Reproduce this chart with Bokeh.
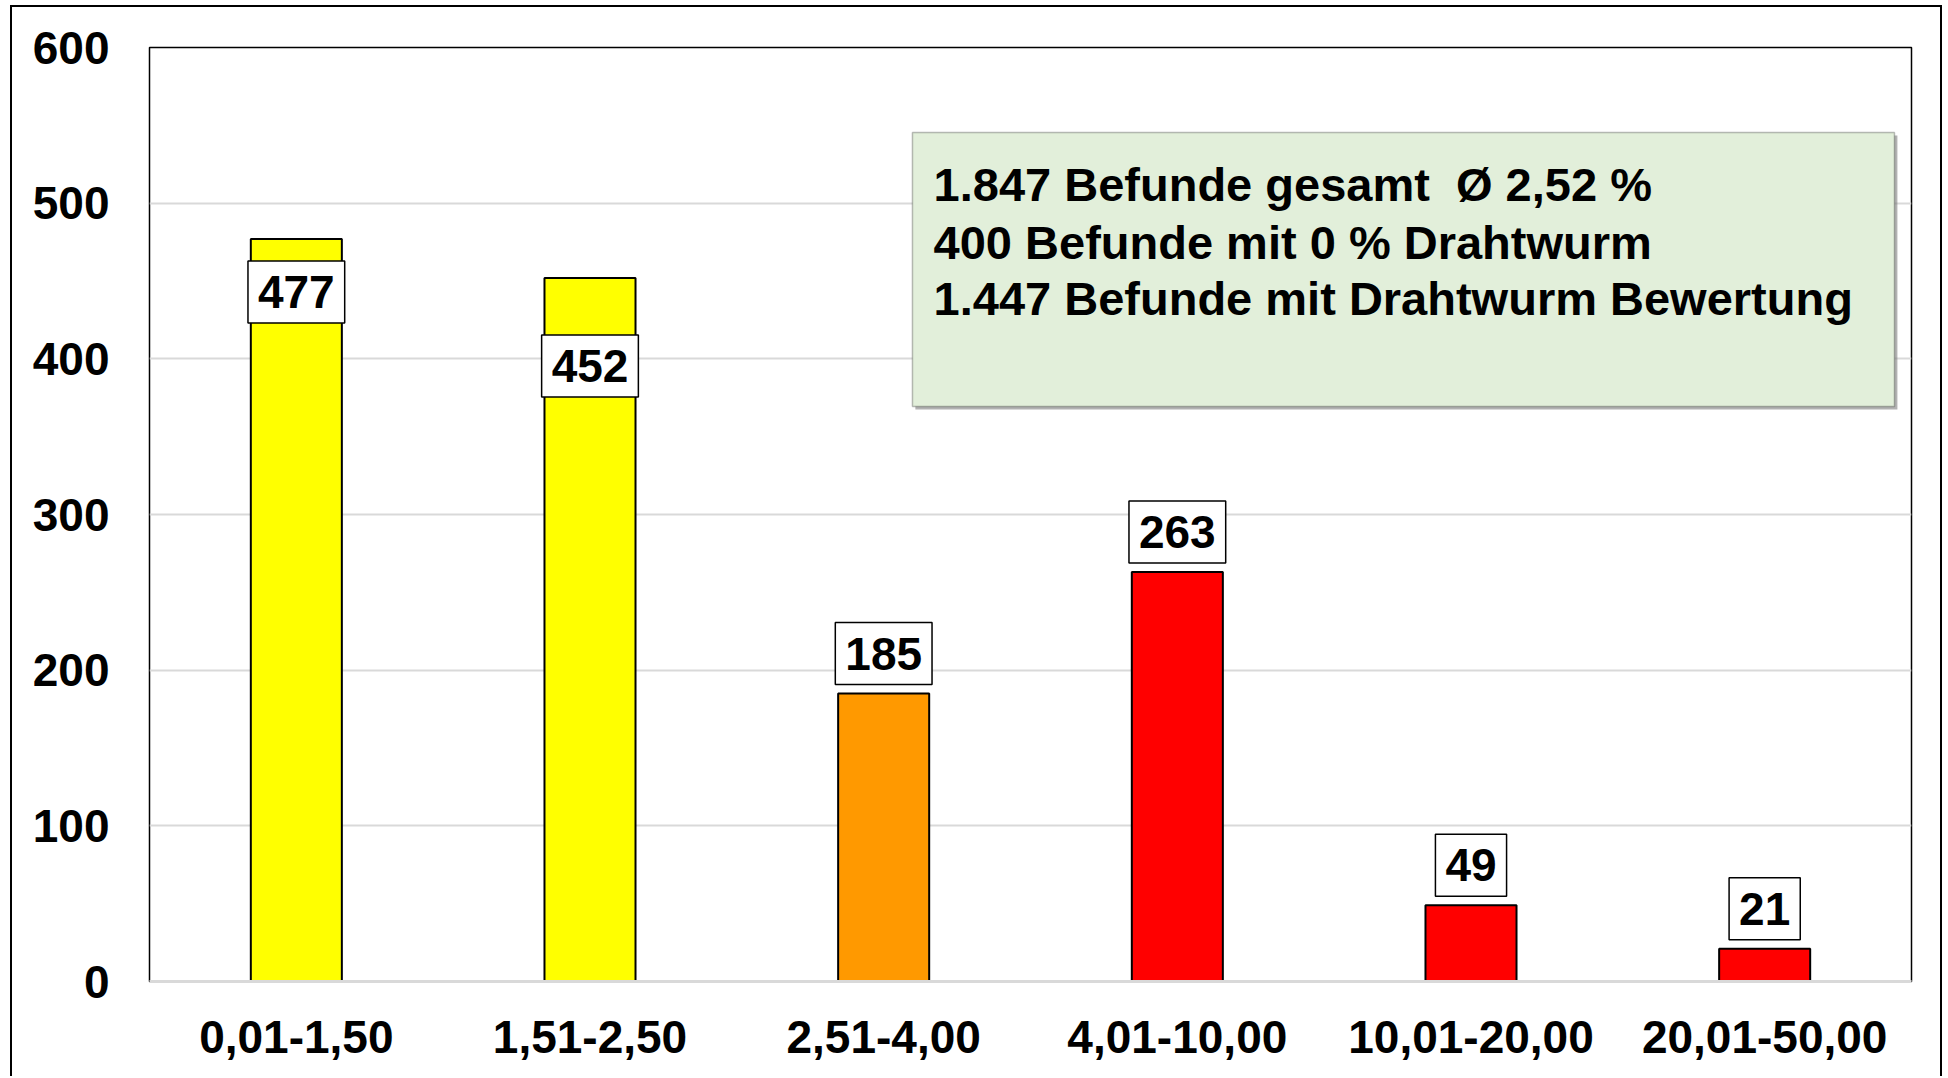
from bokeh.plotting import figure
from bokeh.models import ColumnDataSource, FactorRange, Range1d, FixedTicker, BoxAnnotation, Label
from bokeh.core.properties import value
from bokeh.embed import file_html
from bokeh.resources import INLINE

categories = ["0,01-1,50", "1,51-2,50", "2,51-4,00", "4,01-10,00", "10,01-20,00", "20,01-50,00"]
counts = [477, 452, 185, 263, 49, 21]
bar_colors = ["#FFFF00", "#FFFF00", "#FF9900", "#FF0000", "#FF0000", "#FF0000"]
y_ticks = [0, 100, 200, 300, 400, 500, 600]
info_lines = [
    "1.847 Befunde gesamt \u00a0\u00d8 2,52 %",
    "400 Befunde mit 0 % Drahtwurm",
    "1.447 Befunde mit Drahtwurm Bewertung",
]

FONT = value("Liberation Sans")
FS = "46px"
W, H = 1932, 1071
FL, FT, FR, FB = 137, 40, 1899, 974   # frame edges in canvas px
frame_h = FB - FT
ppu = frame_h / 600.0  # px per data unit

# label placement (pixels above bar top; negative = inside bar)
label_offsets = [-53, -88, 40, 40, 40, 40]
label_y = [v + o / ppu for v, o in zip(counts, label_offsets)]
label_w = [len(str(v)) * 0.556 * 46 + 20 for v in counts]

src = ColumnDataSource(dict(cat=categories, val=counts, color=bar_colors,
                            ly=label_y, lw=label_w, txt=[str(v) for v in counts]))

p = figure(x_range=FactorRange(factors=categories, range_padding=0),
           y_range=Range1d(0, 600), width=W, height=H,
           output_backend="svg", toolbar_location=None,
           min_border_left=FL, min_border_top=FT,
           min_border_right=W - FR, min_border_bottom=H - FB)
p.styles = {"margin-left": "10px", "margin-top": "5px",
            "border-left": "2px solid black", "border-top": "2px solid black",
            "border-right": "2px solid black"}

p.outline_line_color = "#000000"
p.outline_line_width = 1.5
p.background_fill_color = "white"
p.border_fill_color = "white"

p.xgrid.grid_line_color = None
p.ygrid.grid_line_color = "#D9D9D9"
p.ygrid.grid_line_width = 2
p.yaxis.ticker = FixedTicker(ticks=y_ticks)

for ax in (p.xaxis, p.yaxis):
    ax.major_tick_line_color = None
    ax.minor_tick_line_color = None
    ax.major_label_text_font = "Liberation Sans"
    ax.major_label_text_font_style = "bold"
    ax.major_label_text_font_size = FS
    ax.major_label_text_color = "black"
p.yaxis.axis_line_color = None
p.yaxis.major_label_standoff = 34
p.xaxis.axis_line_color = "#D9D9D9"
p.xaxis.axis_line_width = 3
p.xaxis.major_label_standoff = 33

p.vbar(x="cat", top="val", width=0.31, source=src, fill_color="color",
       line_color="black", line_width=2)

p.rect(x="cat", y="ly", width="lw", height=62, width_units="screen", height_units="screen",
       source=src, fill_color="white", line_color="black", line_width=1.5)
p.text(x="cat", y="ly", text="txt", source=src, text_align="center", text_baseline="middle",
       text_font=FONT, text_font_style="bold", text_font_size=FS, text_color="black")

# info box
bx_l, bx_r, bx_b, bx_t = 2.598, 5.942, 369.4, 545.4
p.add_layout(BoxAnnotation(left=bx_l + 0.01, right=bx_r + 0.01, bottom=bx_b - 2, top=bx_t - 2,
                           fill_color="#7F7F7F", fill_alpha=0.6, line_color=None))
p.add_layout(BoxAnnotation(left=bx_l, right=bx_r, bottom=bx_b, top=bx_t,
                           fill_color="#E2EFDA", fill_alpha=1, line_color="#262626", line_width=1.5))
line_y = [512.0, 474.8, 438.8]
for t, yy in zip(info_lines, line_y):
    p.add_layout(Label(x=2.67, y=yy, text=t, text_baseline="middle", text_align="left",
                       text_font="Liberation Sans", text_font_style="bold",
                       text_font_size="47px", text_color="black"))

open("out.html", "w").write(file_html(p, INLINE))
